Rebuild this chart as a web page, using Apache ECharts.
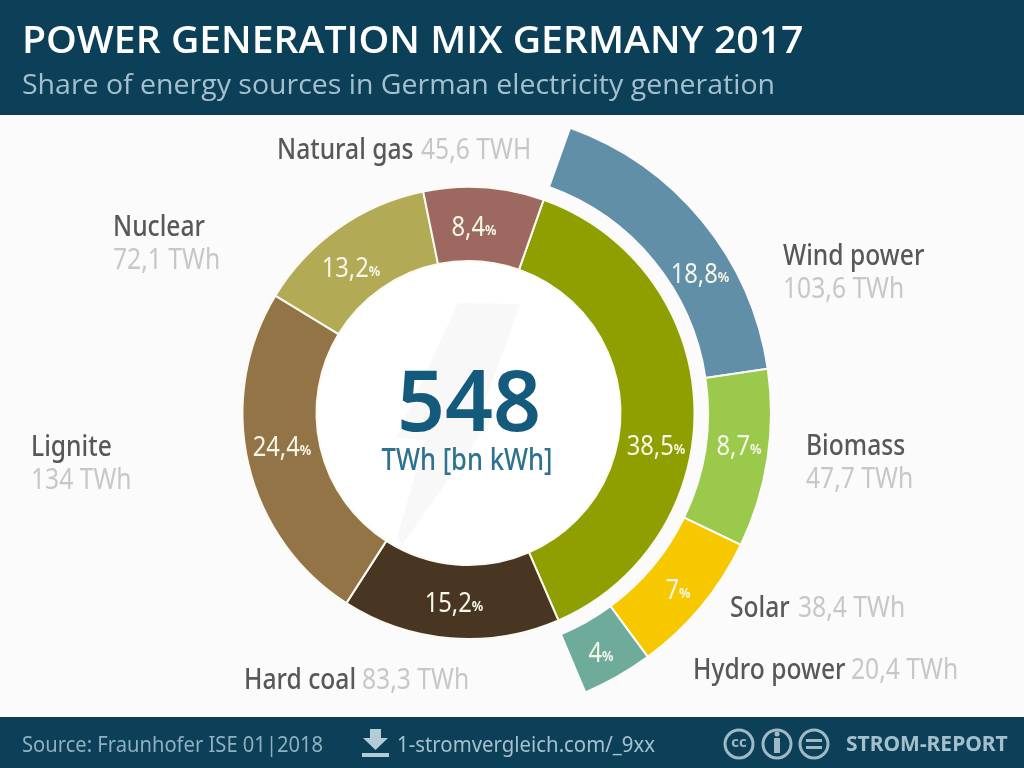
<!DOCTYPE html>
<html><head><meta charset="utf-8">
<style>html,body{margin:0;padding:0;background:#fbfbfc}#c{width:1024px;height:768px}</style>
<script src="https://cdn.jsdelivr.net/npm/echarts@6/dist/echarts.min.js"></script>
</head><body><div id="c"></div>
<script>
const innerNames = ['Renewables','Hard coal','Lignite','Nuclear','Natural gas'];
const innerArcShare = [38.1,15.6,24.6,13.1,8.6];
const innerLabels = ['38,5','15,2','24,4','13,2','8,4'];
const innerColors = ['#8f9e00','#483522','#937447','#b3aa55','#9c6860'];
// Outer ring: breakdown of renewables, arc shares as drawn
const outerNames = ['Wind power','Biomass','Solar','Hydro power'];
const outerArcShare = [17.2,9.5,7.72,3.78];
const outerLabels = ['18,8','8,7','7','4'];
const outerColors = ['#618fa8','#9bc94b','#f7c800','#6fab9b'];
// Callouts
const calloutNames = ['Natural gas','Nuclear','Wind power','Lignite','Biomass','Solar','Hydro power','Hard coal'];
const calloutValues = ['45,6 TWH','72,1 TWh','103,6 TWh','134 TWh','47,7 TWh','38,4 TWh','20,4 TWh','83,3 TWh'];

const innerLabelPos = [[656,447],[454,604],[282,448],[351,269],[474,228]];
const outerLabelPos = [[700,275],[739,447],[678,591],[601,654]];
const cx = 468.5, cy = 413, bg = '#fbfbfc';
const noto = '"Noto Sans"';
const sans = '"Open Sans","Noto Sans"';

function t(text,x,y,font,fill,align,sx){
  return {type:'text',x,y,z:10,silent:true,scaleX:sx||1,style:{text,font,fill,align:align||'left',verticalAlign:'middle'}};
}
function pctText(label,pos){
  return {type:'text',x:pos[0],y:pos[1],z:10,silent:true,scaleX:0.85,style:{
    text:'{a|'+label+'}{b|%}',align:'center',verticalAlign:'middle',
    rich:{a:{fill:'#f4f6e8',font:'28px '+noto},b:{fill:'#f4f6e8',font:'bold 15px '+noto,padding:[6,0,0,0]}}
  }};
}

const nameFont = '500 29px '+noto, valFont = '29px '+noto, nameCol='#58585a', valCol='#c6c7c9';
const calloutPos = [
  [277,151,421,151],[113,228,113,261],[783,257,783,290],[31,448,31,481],
  [806,447,806,480],[730,609,798,609],[693,671,851,671],[244,681,362,681]
];
const texts = [];
calloutNames.forEach((n,i)=>{
  const q=calloutPos[i];
  texts.push(t(n,q[0],q[1],nameFont,nameCol,'left',0.85));
  texts.push(t(calloutValues[i],q[2],q[3],valFont,valCol,'left',0.85));
});
innerLabels.forEach((l,i)=>texts.push(pctText(l,innerLabelPos[i])));
outerLabels.forEach((l,i)=>texts.push(pctText(l,outerLabelPos[i])));

const iconStroke = '#9fb9c5';
const chart = echarts.init(document.getElementById('c'),null,{renderer:'canvas'});
chart.setOption({
  animation:false,
  backgroundColor:bg,
  graphic:{elements:[
    {type:'rect',z:0,silent:true,shape:{x:0,y:0,width:1024,height:115},style:{fill:'#0c3f58'}},
    {type:'rect',z:0,silent:true,shape:{x:0,y:717,width:1024,height:51},style:{fill:'#0c3f58'}},
    {type:'circle',z:0,silent:true,shape:{cx:468,cy:414,r:153},style:{fill:'#ffffff'}},
    {type:'polygon',z:1,silent:true,shape:{points:[[458,303],[520,304],[482,410],[496,412],[402,545],[397,538],[425,440],[396,438]]},style:{fill:'#f8f8f9'}},
    t('POWER GENERATION MIX GERMANY 2017',22,42,'600 38px '+sans,'#ffffff','left',1.03),
    t('Share of energy sources in German electricity generation',22,86,'27px '+sans,'#a5c0cc','left',1.055),
    t('548',469,407,'600 84px '+noto,'#135a7c','center'),
    t('TWh [bn kWh]',467,461,'500 31px '+noto,'#2f7290','center',0.825),
    t('Source: Fraunhofer ISE 01|2018',22,746,'21px '+noto,'#8fb0bf','left',0.96),
    {type:'polygon',z:10,silent:true,shape:{points:[[370,729],[381,729],[381,738],[388,738],[375.5,750],[363,738],[370,738]]},style:{fill:'#b5cbd5'}},
    {type:'rect',z:10,silent:true,shape:{x:362,y:753,width:27,height:4},style:{fill:'#b5cbd5'}},
    t('1-stromvergleich.com/_9xx',397,746,'21px '+noto,'#a5c0cc','left',0.97),
    {type:'circle',z:10,silent:true,shape:{cx:739,cy:744,r:14},style:{fill:'none',stroke:iconStroke,lineWidth:3}},
    t('cc',739,743,'bold 15px '+sans,iconStroke,'center'),
    {type:'circle',z:10,silent:true,shape:{cx:777,cy:744,r:14},style:{fill:'none',stroke:iconStroke,lineWidth:3}},
    {type:'rect',z:10,silent:true,shape:{x:774,y:738,width:6,height:15},style:{fill:iconStroke}},
    {type:'circle',z:10,silent:true,shape:{cx:777,cy:734,r:2.5},style:{fill:iconStroke}},
    {type:'circle',z:10,silent:true,shape:{cx:814,cy:744,r:14},style:{fill:'none',stroke:iconStroke,lineWidth:3}},
    {type:'rect',z:10,silent:true,shape:{x:806,y:739,width:16,height:3},style:{fill:iconStroke}},
    {type:'rect',z:10,silent:true,shape:{x:806,y:746,width:16,height:3},style:{fill:iconStroke}},
    t('STROM-REPORT',846,745,'bold 21px '+noto,'#a5c0cc'),
    ...texts
  ]},
  series:[
    {type:'pie',z:3,silent:true,center:[cx,cy],radius:[152,226],startAngle:90-19.4,clockwise:true,
     avoidLabelOverlap:false,labelLine:{show:false},label:{show:false},
     itemStyle:{borderColor:'#fafaf2',borderWidth:2},
     data:innerNames.map((n,i)=>({name:n,value:innerArcShare[i],itemStyle:{color:innerColors[i]}}))},
    {type:'pie',z:3,silent:true,center:[468,413],radius:[240,303],startAngle:90-19.7,clockwise:true,
     avoidLabelOverlap:false,labelLine:{show:false},label:{show:false},
     itemStyle:{borderColor:bg,borderWidth:2},
     data:outerNames.map((n,i)=>({name:n,value:outerArcShare[i],itemStyle:{color:outerColors[i]}}))
       .concat([{name:'',value:100-outerArcShare.reduce((a,b)=>a+b,0),itemStyle:{color:'rgba(0,0,0,0)',borderWidth:0}}])}
  ]
});
</script></body></html>
